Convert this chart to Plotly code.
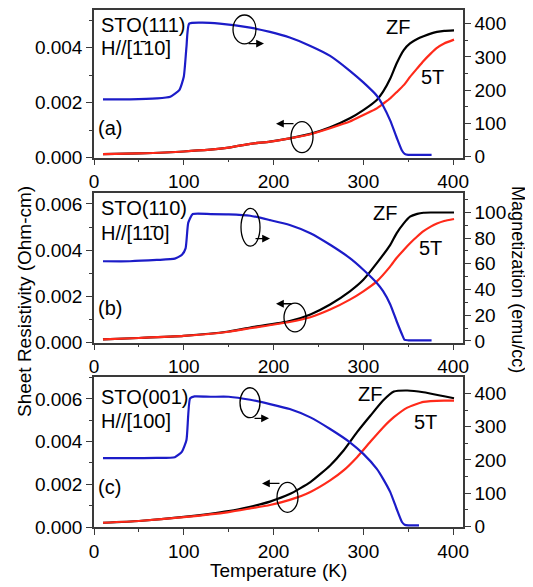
import plotly.graph_objects as go

# ---------------- data ----------------
# Panel (a) STO(111)
T_a_M = [10, 40, 70, 85, 95, 100, 103, 106, 120, 140, 174, 196, 218, 241, 263, 285, 300, 315, 322, 330, 337, 343, 346, 350, 360, 376]
M_a = [172, 172, 175, 180, 200, 240, 330, 400, 403, 400, 388, 375, 358, 333, 303, 258, 223, 183, 153, 108, 58, 18, 8, 5, 5, 5]
T_a_R = [10, 50, 100, 150, 174, 196, 218, 241, 263, 285, 300, 315, 322, 330, 337, 345, 352, 360, 367, 375, 382, 390, 401]
ZF_a = [0.00012, 0.00015, 0.00022, 0.00036, 0.0005, 0.00058, 0.0007, 0.00086, 0.0011, 0.00143, 0.00173, 0.0021, 0.0024, 0.00288, 0.00343, 0.00392, 0.00416, 0.00432, 0.00442, 0.00452, 0.00458, 0.00462, 0.00464]
T5_a = [0.00012, 0.00015, 0.00022, 0.00036, 0.0005, 0.00058, 0.0007, 0.00085, 0.00107, 0.00131, 0.00155, 0.00179, 0.00196, 0.00216, 0.00238, 0.00264, 0.00294, 0.00325, 0.00352, 0.00379, 0.004, 0.00416, 0.0043]

# Panel (b) STO(110)
T_b_M = [10, 40, 70, 90, 98, 102, 105, 110, 130, 150, 174, 196, 218, 241, 263, 285, 300, 315, 322, 330, 337, 343, 346, 350, 360, 376]
M_b = [62, 62, 63, 64, 67, 72, 92, 98.7, 98.7, 98.5, 97.4, 94, 90.2, 83.8, 74.8, 64.4, 55.4, 45.1, 38.7, 28.4, 15.5, 5.2, 0.8, 0.5, 0.5, 0.5]
T_b_R = [10, 50, 100, 150, 174, 218, 241, 263, 285, 300, 315, 330, 337, 345, 352, 360, 367, 375, 382, 390, 401]
ZF_b = [0.00014, 0.0002, 0.00029, 0.00048, 0.00065, 0.00093, 0.00122, 0.00165, 0.00222, 0.00272, 0.00344, 0.00423, 0.00473, 0.00516, 0.00545, 0.00557, 0.00562, 0.00563, 0.00563, 0.00563, 0.00563]
T5_b = [0.00014, 0.0002, 0.00029, 0.00047, 0.00062, 0.00089, 0.0011, 0.00143, 0.00186, 0.00222, 0.00265, 0.0033, 0.00366, 0.00401, 0.0043, 0.00459, 0.00482, 0.00502, 0.00515, 0.00526, 0.00535]

# Panel (c) STO(001)
T_c_M = [10, 40, 70, 90, 98, 103, 107, 112, 130, 150, 174, 196, 218, 241, 263, 285, 300, 315, 322, 330, 337, 343, 346, 350, 362]
M_c = [205, 205, 206, 208, 225, 260, 385, 391, 390, 390, 381, 368, 353, 328, 293, 253, 218, 173, 143, 103, 53, 13, 5, 3, 3]
T_c_R = [10, 50, 100, 150, 174, 196, 218, 241, 263, 278, 293, 308, 322, 334, 349, 367, 390, 401]
ZF_c = [0.0002, 0.00028, 0.00047, 0.00074, 0.00095, 0.00119, 0.00154, 0.0021, 0.00288, 0.00358, 0.00444, 0.00522, 0.00592, 0.00634, 0.00639, 0.00631, 0.00612, 0.00603]
T5_c = [0.0002, 0.00028, 0.00046, 0.0007, 0.00087, 0.00103, 0.00127, 0.00164, 0.00218, 0.00265, 0.00327, 0.004, 0.00466, 0.00514, 0.00559, 0.00586, 0.00592, 0.00592]

x_ticks = [0, 100, 200, 300, 400]

# ---------------- layout helpers ----------------
# the page body adds an 8 px offset; figure is sized to fill the rest of the window
OFF = 8
W, H = 533 - OFF, 587 - OFF
L_REF, R_REF, T_REF, B_REF = 94, 463, 8, 526.7
FONT = "Arial, Liberation Sans, sans-serif"
BLUE = "#1c1cc8"
RED = "#ff2a1a"
BLACK = "#000000"
AX = "#3a3a3a"


def px(x):
    return (x - L_REF) / (R_REF - L_REF)


def py(y):
    return (B_REF - y) / (B_REF - T_REF)


fig = go.Figure()

panels = [
    (T_a_M, M_a, T_a_R, ZF_a, T5_a, "x", "y", "y2"),
    (T_b_M, M_b, T_b_R, ZF_b, T5_b, "x2", "y3", "y4"),
    (T_c_M, M_c, T_c_R, ZF_c, T5_c, "x3", "y5", "y6"),
]
for tm, m, tr, zf, t5, xa, yl, yr in panels:
    fig.add_trace(go.Scatter(x=tm, y=m, mode="lines", line=dict(color=BLUE, width=2.2, shape="spline", smoothing=0.5), xaxis=xa, yaxis=yr, showlegend=False))
    fig.add_trace(go.Scatter(x=tr, y=zf, mode="lines", line=dict(color=BLACK, width=2.2, shape="spline", smoothing=0.5), xaxis=xa, yaxis=yl, showlegend=False))
    fig.add_trace(go.Scatter(x=tr, y=t5, mode="lines", line=dict(color=RED, width=2.2, shape="spline", smoothing=0.5), xaxis=xa, yaxis=yl, showlegend=False))

doms = [(py(156), py(8)), (py(341.7), py(191.7)), (py(526.7), py(376.7))]
left_ranges = [[0, 0.00538], [0, 0.00647], [0, 0.0070]]
right_ranges = [[-3, 441], [-1.3, 115], [-2, 448]]
right_dticks = [100, 20, 100]

tickfont = dict(family=FONT, size=19, color="black")
common_axis = dict(showline=True, linecolor=AX, linewidth=1.5, ticks="outside", ticklen=6, tickwidth=1.3,
                   tickcolor=AX, showgrid=False, zeroline=False, tickfont=tickfont)

layout = dict(width=W, height=H,
              margin=dict(l=L_REF - OFF, r=W - (R_REF - OFF), t=T_REF - OFF, b=H - (B_REF - OFF), pad=0),
              plot_bgcolor="white", paper_bgcolor="white", showlegend=False)

for i in range(3):
    xname = "xaxis" if i == 0 else f"xaxis{i+1}"
    ylname = "yaxis" if i == 0 else f"yaxis{2*i+1}"
    yrname = f"yaxis{2*i+2}"
    xa = "x" if i == 0 else f"x{i+1}"
    yl = "y" if i == 0 else f"y{2*i+1}"
    layout[xname] = dict(common_axis, domain=[0, 1], anchor=yl, range=[0, 411], tickvals=x_ticks,
                         mirror=True, minor=dict(dtick=50, ticklen=3, ticks="outside", tickcolor=AX))
    layout[ylname] = dict(common_axis, domain=list(doms[i]), anchor=xa, range=left_ranges[i], dtick=0.002,
                          tickformat=".3f", minor=dict(dtick=0.001, ticklen=3, ticks="outside", tickcolor=AX))
    layout[yrname] = dict(common_axis, overlaying=yl, side="right", anchor=xa, range=right_ranges[i],
                          dtick=right_dticks[i], minor=dict(dtick=right_dticks[i] / 2, ticklen=3, ticks="outside", tickcolor=AX))

fig.update_layout(**layout)

# ---------------- annotations ----------------
anns = []


def txt(x, y, s, xanchor="left", size=20):
    anns.append(dict(x=px(x), y=py(y), xref="paper", yref="paper", text=s, showarrow=False,
                     xanchor=xanchor, yanchor="middle", font=dict(family=FONT, size=size, color="black")))


def arrow(x0, y0, x1, y1):
    anns.append(dict(x=px(x1), y=py(y1), xref="paper", yref="paper", ax=x0 - x1, ay=y0 - y1,
                     axref="pixel", ayref="pixel", text="", showarrow=True, arrowhead=2, arrowsize=1.2,
                     arrowwidth=1.3, arrowcolor="black"))


txt(99, 22.7, "STO(111)")
txt(99, 46, "H//[1\u0304" + "10]")
txt(96, 126, "(a)")
txt(398, 25, "ZF", "center")
txt(432, 75, "5T", "center")

txt(99, 206.7, "STO(110)")
txt(99, 231.7, "H//[11\u0304" + "0]")
txt(96, 306.7, "(b)")
txt(385, 211.7, "ZF", "center")
txt(430, 246.7, "5T", "center")

txt(99, 396, "STO(001)")
txt(99, 420, "H//[100]")
txt(96, 486.7, "(c)")
txt(370, 393, "ZF", "center")
txt(425, 421.7, "5T", "center")

arrow(247, 41.7, 264, 41.7)
arrow(295, 122, 276, 122)
arrow(254, 237.3, 270, 237.3)
arrow(293, 302.7, 276, 302.7)
arrow(253, 417.7, 269, 417.7)
arrow(281, 483, 262, 483)

# axis titles
anns.append(dict(x=px(24), y=py(301), xref="paper", yref="paper", text="Sheet Resistivity (Ohm-cm)", showarrow=False,
                 textangle=-90, font=dict(family=FONT, size=19, color="black"), xanchor="center", yanchor="middle"))
anns.append(dict(x=px(518), y=py(278), xref="paper", yref="paper", text="Magnetization (emu/cc)", showarrow=False,
                 textangle=90, font=dict(family=FONT, size=18, color="black"), xanchor="center", yanchor="middle"))
anns.append(dict(x=px(278), y=py(570), xref="paper", yref="paper", text="Temperature (K)", showarrow=False,
                 font=dict(family=FONT, size=19, color="black"), xanchor="center", yanchor="middle"))

fig.update_layout(annotations=anns)

# ellipses
shapes = []
for x0, y0, x1, y1 in [(233, 13, 256, 42), (291, 120, 313, 151), (241, 207, 260, 245),
                       (284, 302, 306, 331), (240, 387, 260, 417), (277, 482, 298, 512)]:
    shapes.append(dict(type="circle", xref="paper", yref="paper", x0=px(x0), x1=px(x1), y0=py(y1), y1=py(y0),
                       line=dict(color="black", width=1.3)))
fig.update_layout(shapes=shapes)

fig.write_html("out.html")
